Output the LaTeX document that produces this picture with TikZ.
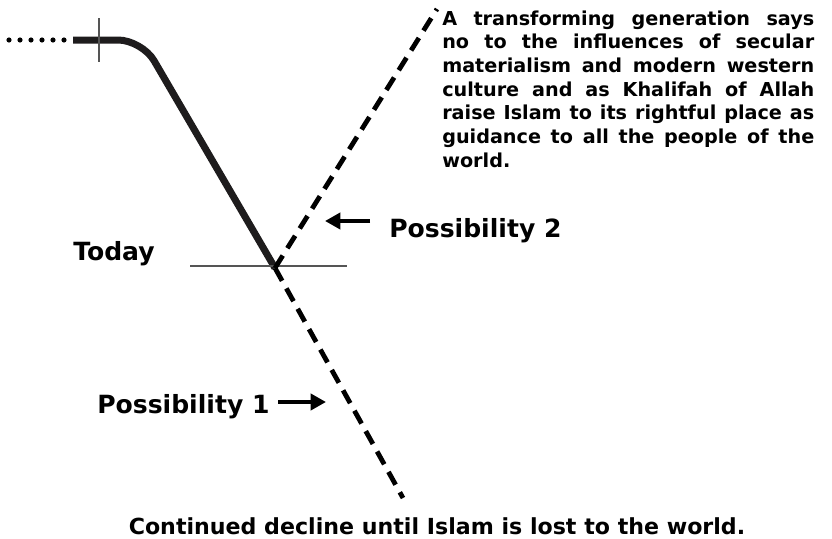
\documentclass[tikz,border=0pt]{standalone}
\usepackage{fontspec}
\setmainfont{DejaVu Sans}
\usetikzlibrary{arrows.meta}
\definecolor{inkdark}{HTML}{1E1C1D}
\definecolor{thingray}{HTML}{555555}
\tikzset{
  biglabel/.style={font=\fontsize{18.8}{22}\selectfont\bfseries, inner sep=0pt},
  bottomtext/.style={font=\fontsize{16.6}{20}\selectfont\bfseries, inner sep=0pt},
  paratext/.style={inner sep=0pt},
  trend/.style={draw=inkdark, line width=5.25pt, rounded corners=18pt},
  dots/.style={draw=black, line width=3.9pt, line cap=round, dash pattern=on 0pt off 8.25pt},
  fork/.style={draw=black, line width=3.6pt, dash pattern=on 11pt off 6.5pt},
  thinline/.style={draw=thingray, line width=0.9pt},
  pointer/.style={draw=black, line width=3.6pt, -{Triangle[length=11.5pt, width=12pt]}},
}
\begin{document}
\begin{tikzpicture}[x=0.75pt, y=-0.75pt]
\useasboundingbox (0,0) rectangle (832,539);
% coordinates
\coordinate (dotA) at (9,40);
\coordinate (dotB) at (64,40);
\coordinate (lineA) at (73,40);
\coordinate (knee) at (142,40);
\coordinate (today) at (275,268);
\coordinate (tickT) at (99,18);
\coordinate (tickB) at (99,62);
\coordinate (hL) at (190,266);
\coordinate (hR) at (347,266);
\coordinate (upEnd) at (437,9);
\coordinate (downEnd) at (403,498);
\coordinate (p2tail) at (370,221);
\coordinate (p2tip) at (325,221);
\coordinate (p1tail) at (278,402);
\coordinate (p1tip) at (326,402);
% lines
\path[dots] (dotA) -- (dotB);
\path[trend] (lineA) -- (knee) -- (today);
\path[thinline] (tickT) -- (tickB);
\path[thinline] (hL) -- (hR);
\path[fork] (today) -- (upEnd);
\path[fork] (today) -- (downEnd);
\path[pointer] (p2tail) -- (p2tip);
\path[pointer] (p1tail) -- (p1tip);
% labels
\node[biglabel, anchor=base west] (lToday) at (73,260) {Today};
\node[biglabel, anchor=base west] (lP2) at (389,237) {Possibility 2};
\node[biglabel, anchor=base west] (lP1) at (97,413) {Possibility 1};
\node[bottomtext, anchor=base] (lEnd) at (437,534) {Continued decline until Islam is lost to the world.};
\node[paratext, anchor=base west] (para) at (442,25) {\parbox[t]{279pt}{\fontsize{14.4}{17.8}\selectfont\bfseries A transforming generation says\linebreak no to the influences of secular\linebreak materialism and modern western\linebreak culture and as Khalifah of Allah\linebreak raise Islam to its rightful place as\linebreak guidance to all the people of the\linebreak world.}};
\end{tikzpicture}
\end{document}
